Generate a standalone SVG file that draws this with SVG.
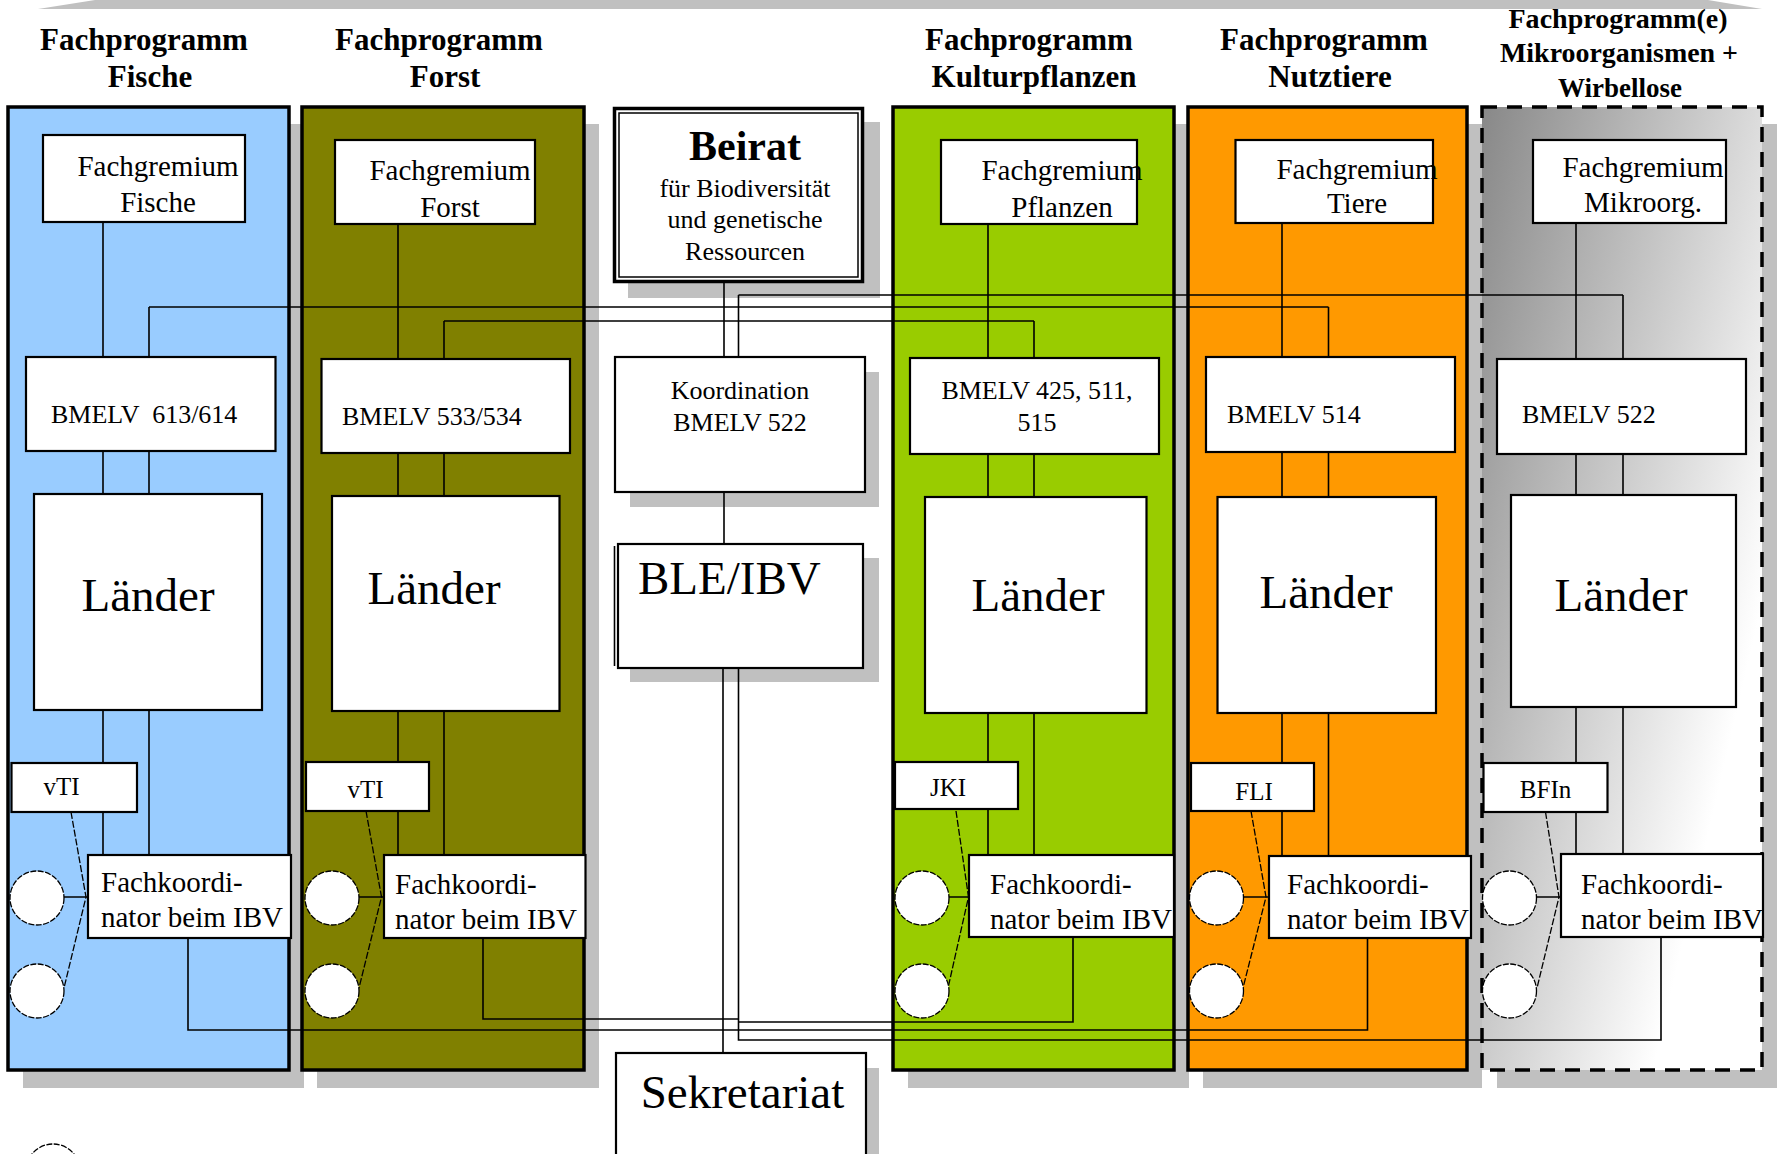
<svg xmlns="http://www.w3.org/2000/svg" width="1782" height="1154" viewBox="0 0 1782 1154">
<defs>
<style>
.t{font-family:"Liberation Serif","Times New Roman",serif;fill:#000}
.title{font-weight:bold;font-size:31px;text-anchor:middle}
.t5{font-weight:bold;font-size:27px;text-anchor:middle}
.box{fill:#fff;stroke:#000;stroke-width:2.2}
.col{stroke:#000;stroke-width:3.5}
.sh{fill:#c0c0c0}
.ln{fill:none;stroke:#000;stroke-width:1.6}
.dl{fill:none;stroke:#000;stroke-width:1.3;stroke-dasharray:7 2}
.circ{fill:#fff;stroke:#000;stroke-width:1.3;stroke-dasharray:6 1.5}
.fg{font-size:29px;text-anchor:middle}
.bm{font-size:26px}
.mid{text-anchor:middle}
.ld{font-size:47px;text-anchor:middle}
.in{font-size:25px;text-anchor:middle}
.fk{font-size:29px}
</style>
<linearGradient id="g5" gradientUnits="userSpaceOnUse" x1="1482" y1="107" x2="1858" y2="195">
<stop offset="0" stop-color="#888888"/>
<stop offset="1" stop-color="#ffffff"/>
</linearGradient>
</defs>
<rect x="0" y="0" width="1782" height="1154" fill="#fff"/>
<polygon points="38,9 95,0 1708,0 1762,9" fill="#c0c0c0"/>

<g id="shadows">
<rect class="sh" x="23" y="124" width="281" height="964"/>
<rect class="sh" x="317" y="124" width="282" height="964"/>
<rect class="sh" x="628" y="122" width="252" height="176"/>
<rect class="sh" x="630" y="372" width="249" height="135"/>
<rect class="sh" x="630" y="558" width="249" height="124"/>
<rect class="sh" x="631" y="1068" width="248" height="100"/>
<rect class="sh" x="908" y="124" width="281" height="964"/>
<rect class="sh" x="1203" y="124" width="279" height="964"/>
<rect class="sh" x="1497" y="124" width="280" height="964"/>
</g>

<g id="titles" class="t">
<text class="title" x="144" y="50">Fachprogramm</text>
<text class="title" x="150" y="87">Fische</text>
<text class="title" x="439" y="50">Fachprogramm</text>
<text class="title" x="445" y="87">Forst</text>
<text class="title" x="1029" y="50">Fachprogramm</text>
<text class="title" x="1034" y="87">Kulturpflanzen</text>
<text class="title" x="1324" y="50">Fachprogramm</text>
<text class="title" x="1330" y="87">Nutztiere</text>
<text class="t5" x="1618" y="28" textLength="219" lengthAdjust="spacingAndGlyphs">Fachprogramm(e)</text>
<text class="t5" x="1619" y="62" textLength="238" lengthAdjust="spacingAndGlyphs">Mikroorganismen +</text>
<text class="t5" x="1620" y="97">Wirbellose</text>
</g>

<g id="col-fische"><rect class="col" x="8" y="107" width="281" height="963" fill="#99ccff"/></g>
<g id="col-forst"><rect class="col" x="302" y="107" width="282" height="963" fill="#808000"/></g>
<g id="col-kulturpflanzen"><rect class="col" x="893" y="107" width="281" height="963" fill="#99cc00"/></g>
<g id="col-nutztiere"><rect class="col" x="1188" y="107" width="279" height="963" fill="#ff9900"/></g>
<g id="col-mikroorganismen"><rect class="col" x="1482" y="107" width="280" height="963" fill="url(#g5)" stroke-dasharray="15 10"/></g>

<g id="connectors">
<path class="ln" d="M103 222V855M149 307V855M398 224V855M444 321V855M988 224V855M1034 321V855M1282 223V856M1328.5 307V856M1576 223V854M1623 295V854"/>
<path class="ln" d="M149 307H1328.5M444 321H1034M738.5 295H1623"/>
<path class="ln" d="M724 283V357M738.5 295V357M724 492V544"/>
<path class="ln" d="M188 938V1030H1367.5V938M483 938V1019H738.5M1073 937V1022H738.5M1661 937V1040H738.5V668M723 668V1053"/>
<path class="dl" d="M71 812L86 897L64 988M366 811L381.5 897L359 988M956 811L968.5 897L948 988M1251 811L1266 897L1243 988M1545.5 812L1559 897L1537 988"/>
<path class="ln" d="M63 897H88M358 897H384M948 897H969M1243 897H1269M1537 897H1561"/>
</g>

<g id="beirat" class="t">
<rect x="614.5" y="108.5" width="248" height="173" fill="#fff" stroke="#000" stroke-width="3.5"/>
<rect x="619" y="113" width="239" height="164" fill="none" stroke="#000" stroke-width="1.5"/>
<text x="745" y="160" font-size="42" font-weight="bold" class="mid">Beirat</text>
<text x="745" y="197" font-size="26" class="mid">für Biodiversität</text>
<text x="745" y="228" font-size="26" class="mid">und genetische</text>
<text x="745" y="260" font-size="26" class="mid">Ressourcen</text>
</g>
<g id="koordination" class="t">
<rect class="box" x="615" y="357" width="250" height="135"/>
<text class="bm mid" x="740" y="399">Koordination</text>
<text class="bm mid" x="740" y="431">BMELV 522</text>
</g>
<g id="ble-ibv" class="t">
<path class="ln" d="M614.5 546V666"/>
<rect class="box" x="618" y="544" width="245" height="124"/>
<text x="638" y="594" font-size="47">BLE/IBV</text>
</g>
<g id="sekretariat" class="t">
<rect class="box" x="616" y="1053" width="250" height="120"/>
<text class="ld" x="742.5" y="1108">Sekretariat</text>
</g>

<g id="fg-fische" class="t"><rect class="box" x="43" y="135" width="202" height="87"/><text class="fg" x="158" y="176">Fachgremium</text><text class="fg" x="158" y="212">Fische</text></g>
<g id="fg-forst" class="t"><rect class="box" x="335" y="140" width="200" height="84"/><text class="fg" x="450" y="180">Fachgremium</text><text class="fg" x="450" y="217">Forst</text></g>
<g id="fg-pflanzen" class="t"><rect class="box" x="941" y="140" width="196" height="84"/><text class="fg" x="1062" y="180">Fachgremium</text><text class="fg" x="1062" y="217">Pflanzen</text></g>
<g id="fg-tiere" class="t"><rect class="box" x="1235.5" y="140" width="197.5" height="83"/><text class="fg" x="1357" y="179">Fachgremium</text><text class="fg" x="1357" y="213">Tiere</text></g>
<g id="fg-mikroorg" class="t"><rect class="box" x="1533" y="140" width="193" height="83"/><text class="fg" x="1643" y="177">Fachgremium</text><text class="fg" x="1643" y="212">Mikroorg.</text></g>

<g id="bmelv-fische" class="t"><rect class="box" x="26" y="357" width="249.5" height="94"/><text class="bm" x="51" y="423" xml:space="preserve">BMELV  613/614</text></g>
<g id="bmelv-forst" class="t"><rect class="box" x="321.5" y="359" width="248.5" height="94"/><text class="bm" x="342" y="425">BMELV 533/534</text></g>
<g id="bmelv-pflanzen" class="t"><rect class="box" x="910" y="358" width="249" height="96"/><text class="bm mid" x="1037" y="399">BMELV 425, 511,</text><text class="bm mid" x="1037" y="431">515</text></g>
<g id="bmelv-tiere" class="t"><rect class="box" x="1206" y="357" width="249" height="95"/><text class="bm" x="1227" y="423">BMELV 514</text></g>
<g id="bmelv-mikroorg" class="t"><rect class="box" x="1497" y="359" width="249" height="95"/><text class="bm" x="1522" y="423">BMELV 522</text></g>

<g id="laender-fische" class="t"><rect class="box" x="34" y="494" width="228" height="216"/><text class="ld" x="148" y="611">Länder</text></g>
<g id="laender-forst" class="t"><rect class="box" x="332" y="496" width="227.5" height="215"/><text class="ld" x="434" y="604">Länder</text></g>
<g id="laender-pflanzen" class="t"><rect class="box" x="925" y="497" width="221.5" height="216"/><text class="ld" x="1038" y="611">Länder</text></g>
<g id="laender-tiere" class="t"><rect class="box" x="1217.5" y="497" width="218.5" height="216"/><text class="ld" x="1326" y="608">Länder</text></g>
<g id="laender-mikroorg" class="t"><rect class="box" x="1511" y="495" width="225" height="212"/><text class="ld" x="1621" y="611">Länder</text></g>

<g id="inst-vti-1" class="t"><rect class="box" x="11.5" y="763" width="125.5" height="49"/><text class="in" x="61.5" y="795">vTI</text></g>
<g id="inst-vti-2" class="t"><rect class="box" x="306" y="762" width="123" height="49"/><text class="in" x="365.5" y="798">vTI</text></g>
<g id="inst-jki" class="t"><rect class="box" x="895" y="762" width="123" height="47"/><text class="in" x="948" y="796">JKI</text></g>
<g id="inst-fli" class="t"><rect class="box" x="1191" y="763" width="123" height="48"/><text class="in" x="1254" y="800">FLI</text></g>
<g id="inst-bfin" class="t"><rect class="box" x="1483.5" y="763" width="124" height="49"/><text class="in" x="1545.5" y="798">BFIn</text></g>

<g id="fk-fische" class="t"><rect class="box" x="88" y="855" width="203" height="83"/><text class="fk" x="101" y="892">Fachkoordi-</text><text class="fk" x="101" y="927">nator beim IBV</text></g>
<g id="fk-forst" class="t"><rect class="box" x="384" y="855" width="201.5" height="83"/><text class="fk" x="395" y="894">Fachkoordi-</text><text class="fk" x="395" y="929">nator beim IBV</text></g>
<g id="fk-pflanzen" class="t"><rect class="box" x="969" y="855" width="205" height="82"/><text class="fk" x="990" y="894">Fachkoordi-</text><text class="fk" x="990" y="929">nator beim IBV</text></g>
<g id="fk-tiere" class="t"><rect class="box" x="1269" y="856" width="202" height="82"/><text class="fk" x="1287" y="894">Fachkoordi-</text><text class="fk" x="1287" y="929">nator beim IBV</text></g>
<g id="fk-mikroorg" class="t"><rect class="box" x="1561" y="854" width="202" height="83"/><text class="fk" x="1581" y="894">Fachkoordi-</text><text class="fk" x="1581" y="929">nator beim IBV</text></g>

<g id="circles">
<circle class="circ" cx="37" cy="898" r="27"/><circle class="circ" cx="37" cy="991" r="27"/>
<circle class="circ" cx="332" cy="898" r="27"/><circle class="circ" cx="332" cy="991" r="27"/>
<circle class="circ" cx="922" cy="898" r="27"/><circle class="circ" cx="922" cy="991" r="27"/>
<circle class="circ" cx="1216.5" cy="898" r="27"/><circle class="circ" cx="1216.5" cy="991" r="27"/>
<circle class="circ" cx="1509.5" cy="898" r="27"/><circle class="circ" cx="1509.5" cy="991" r="27"/>
<circle class="circ" cx="53" cy="1171" r="27"/>
</g>
</svg>
